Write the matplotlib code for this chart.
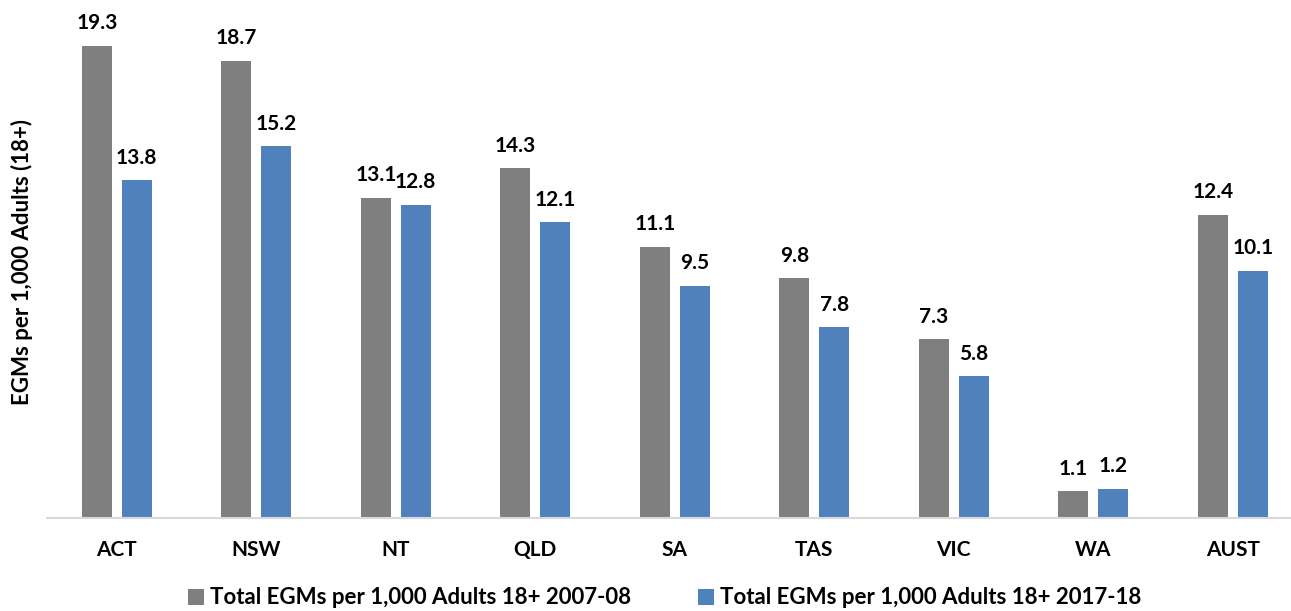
import numpy as np
import matplotlib.pyplot as plt

plt.rcParams['font.family'] = ['Lato', 'DejaVu Sans']

states = ['ACT', 'NSW', 'NT', 'QLD', 'SA', 'TAS', 'VIC', 'WA', 'AUST']
egm_2007 = [19.3, 18.7, 13.1, 14.3, 11.1, 9.8, 7.3, 1.1, 12.4]
egm_2017 = [13.8, 15.2, 12.8, 12.1, 9.5, 7.8, 5.8, 1.2, 10.1]
series_names = ['Total EGMs per 1,000 Adults 18+ 2007-08',
                'Total EGMs per 1,000 Adults 18+ 2017-18']

grey = '#7F7F7F'
blue = '#4F81BD'

fig = plt.figure(figsize=(12.91, 6.11), dpi=100)
ax = fig.add_axes([47 / 1291, 93 / 611, 1255.5 / 1291, 518 / 611])

x = np.arange(len(states))
w = 0.217
off = 0.143
b1 = ax.bar(x - off, egm_2007, w, color=grey, label=series_names[0])
b2 = ax.bar(x + off, egm_2017, w, color=blue, label=series_names[1])

for bars, vals in [(b1, egm_2007), (b2, egm_2017)]:
    for b, v in zip(bars, vals):
        ax.annotate('%.1f' % v, (b.get_x() + b.get_width() / 2, v),
                    xytext=(0, 9), textcoords='offset points',
                    ha='center', va='bottom', fontsize=15, fontweight='bold')

ax.set_xlim(-0.5, len(states) - 0.5)
ax.set_ylim(0, 21.18)
ax.set_xticks(x)
ax.set_xticklabels(states, fontsize=15, fontweight='bold')
ax.tick_params(axis='x', length=0, pad=16)
ax.set_yticks([])
for s in ['top', 'right', 'left']:
    ax.spines[s].set_visible(False)
ax.spines['bottom'].set_color('#D9D9D9')
ax.spines['bottom'].set_linewidth(1.5)

fig.text(22 / 1291, 1 - 262 / 611, 'EGMs per 1,000 Adults (18+)', rotation=90,
         ha='center', va='center', fontsize=16, fontweight='bold')

fig.legend(handles=[b1, b2], loc='center', bbox_to_anchor=(665 / 1291, 13 / 611),
           ncol=2, frameon=False, prop={'weight': 'bold', 'size': 16},
           handlelength=0.7, handleheight=0.7, handletextpad=0.3, columnspacing=3.0)

fig.savefig('out.png', dpi=100)
